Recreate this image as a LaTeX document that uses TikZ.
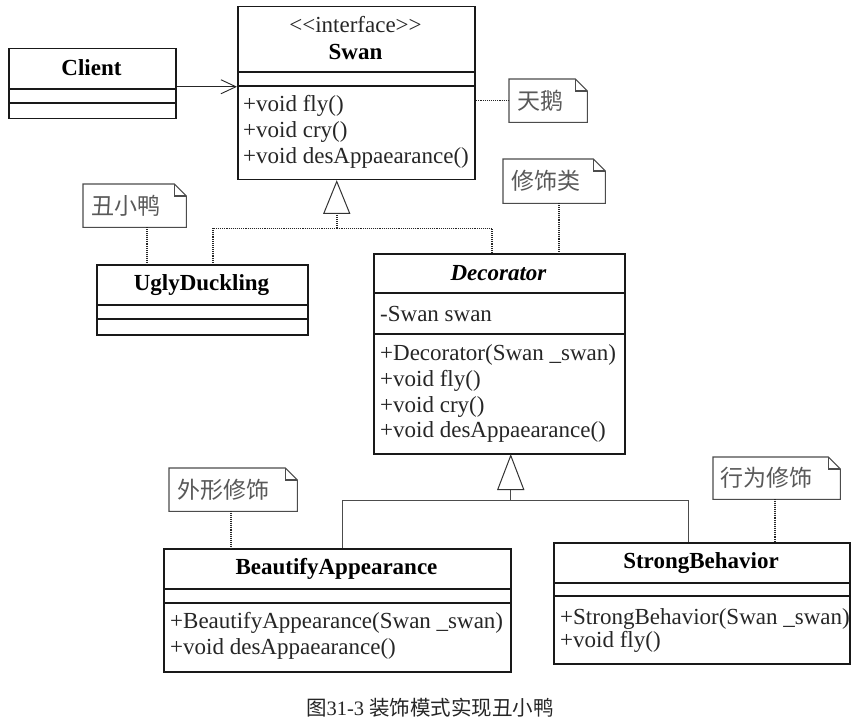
\documentclass[tikz,border=0pt]{standalone}
\usepackage{fontspec}
\setmainfont{Liberation Serif}
\newfontfamily\cjk{Noto Sans CJK SC}
\usetikzlibrary{arrows.meta}
\begin{document}
\begin{tikzpicture}[x=1pt,y=-1pt,
  classbox/.style={draw=black!90, line width=1.5pt, inner sep=0pt, anchor=north west},
  sepline/.style={draw=black!90, line width=1.5pt},
  title/.style={inner sep=0pt, font=\fontsize{23}{25}\selectfont\bfseries, text=black},
  member/.style={inner sep=0pt, anchor=west, font=\fontsize{23}{25}\selectfont, text=black!85},
  notebox/.style={inner sep=0pt, anchor=north west},
  noteborder/.style={draw=black!70, line width=1.1pt, line join=miter},
  notetext/.style={inner sep=0pt, anchor=west, font=\fontsize{23}{25}\selectfont\cjk, text=black!65},
  dotline/.style={draw=black!85, line width=1.6pt, dash pattern=on 1pt off 0.9pt},
  genline/.style={draw=black!70, line width=0.9pt},
  assoc/.style={draw=black!85, line width=0.9pt, -{Straight Barb[length=15pt,width=14pt,line width=0.9pt]}},
  tri/.style={draw=black!80, line width=1pt, fill=white, line join=miter},
  captext/.style={inner sep=0pt, font=\fontsize{20.5}{22}\selectfont, text=black!85}
]
\fill[white] (0,0) rectangle (862,722);
\useasboundingbox (0,0) rectangle (862,722);

% ---------- Client ----------
\node[classbox, minimum width=167pt, minimum height=70pt] (client) at (8,48) {};
\node[title] (clientT) at (91.5,68) {Client};
\draw[sepline] (8,89) -- (175,89);
\draw[sepline] (8,103) -- (175,103);

% ---------- Swan ----------
\node[classbox, minimum width=237pt, minimum height=173pt] (swan) at (237,6) {};
\node[inner sep=0pt, font=\fontsize{23}{25}\selectfont, text=black!85] (swanS) at (355.5,25) {<\kern0pt<interface>\kern0pt>};
\node[title] (swanT) at (355.5,52) {Swan};
\draw[sepline] (237,72) -- (474,72);
\draw[sepline] (237,86) -- (474,86);
\node[member] (swanM1) at (243,106) {+void fly()};
\node[member] (swanM2) at (243,132) {+void cry()};
\node[member] (swanM3) at (243,158) {+void desAppaearance()};

% ---------- UglyDuckling ----------
\node[classbox, minimum width=211pt, minimum height=70pt] (ugly) at (96,264) {};
\node[title] (uglyT) at (201.5,285) {UglyDuckling};
\draw[sepline] (96,305) -- (307,305);
\draw[sepline] (96,319) -- (307,319);

% ---------- Decorator ----------
\node[classbox, minimum width=251pt, minimum height=200pt] (deco) at (373,253) {};
\node[title, font=\fontsize{23}{25}\selectfont\bfseries\itshape] (decoT) at (498.5,273) {Decorator};
\draw[sepline] (373,293) -- (624,293);
\draw[sepline] (373,334) -- (624,334);
\node[member] (decoA) at (380,314) {-Swan swan};
\node[member] (decoM1) at (380,355) {+Decorator(Swan \_swan)};
\node[member] (decoM2) at (380,381) {+void fly()};
\node[member] (decoM3) at (380,407) {+void cry()};
\node[member] (decoM4) at (380,432) {+void desAppaearance()};

% ---------- BeautifyAppearance ----------
\node[classbox, minimum width=347pt, minimum height=123pt] (beau) at (163,548) {};
\node[title] (beauT) at (336.5,569) {BeautifyAppearance};
\draw[sepline] (163,589) -- (510,589);
\draw[sepline] (163,603) -- (510,603);
\node[member] (beauM1) at (170,623) {+BeautifyAppearance(Swan \_swan)};
\node[member] (beauM2) at (170,649) {+void desAppaearance()};

% ---------- StrongBehavior ----------
\node[classbox, minimum width=296pt, minimum height=121pt] (strong) at (553,542) {};
\node[title] (strongT) at (701,563) {StrongBehavior};
\draw[sepline] (553,583) -- (849,583);
\draw[sepline] (553,596) -- (849,596);
\node[member] (strongM1) at (560,619) {+StrongBehavior(Swan \_swan)};
\node[member] (strongM2) at (560,642) {+void fly()};

% ---------- Notes ----------
\newcommand\drawnote[1]{%
  \draw[noteborder] (#1.north west) -- ([xshift=-12pt]#1.north east) -- ([yshift=-12pt]#1.north east) -- (#1.south east) -- (#1.south west) -- cycle;
  \draw[noteborder] ([xshift=-12pt]#1.north east) -- ([xshift=-12pt,yshift=-12pt]#1.north east) -- ([yshift=-12pt]#1.north east);}

\node[notebox, minimum width=78pt, minimum height=43pt] (nSwan) at (509,79) {};
\drawnote{nSwan}
\node[notetext] (nSwanT) at ([xshift=8.5pt]nSwan.west) {天鹅};

\node[notebox, minimum width=102pt, minimum height=44pt] (nDeco) at (503,159) {};
\drawnote{nDeco}
\node[notetext] (nDecoT) at ([xshift=8.5pt]nDeco.west) {修饰类};

\node[notebox, minimum width=103pt, minimum height=43pt] (nUgly) at (83,184) {};
\drawnote{nUgly}
\node[notetext] (nUglyT) at ([xshift=8.5pt]nUgly.west) {丑小鸭};

\node[notebox, minimum width=128pt, minimum height=43pt] (nBeau) at (169,468) {};
\drawnote{nBeau}
\node[notetext] (nBeauT) at ([xshift=8.5pt]nBeau.west) {外形修饰};

\node[notebox, minimum width=127pt, minimum height=42pt] (nStrong) at (713,457) {};
\drawnote{nStrong}
\node[notetext] (nStrongT) at ([xshift=7.5pt]nStrong.west) {行为修饰};

% ---------- Note links ----------
\draw[dotline] (nSwan.west) -- (nSwan.west -| swan.east);
\draw[dotline] ([xshift=5pt]nDeco.south) -- ([xshift=5pt]nDeco.south |- deco.north);
\draw[dotline] ([xshift=12.5pt]nUgly.south) -- ([xshift=12.5pt]nUgly.south |- ugly.north);
\draw[dotline] ([xshift=-2pt]nBeau.south) -- ([xshift=-2pt]nBeau.south |- beau.north);
\draw[dotline] ([xshift=-1.5pt]nStrong.south) -- ([xshift=-1.5pt]nStrong.south |- strong.north);

% ---------- Association Client -> Swan ----------
\coordinate (ca) at ([yshift=-3pt]client.east);
\draw[assoc] (ca) -- (ca -| swan.west);

% ---------- Realization to Swan ----------
\coordinate (r1) at ([xshift=-19.5pt,yshift=-1pt]swan.south);
\coordinate (r1b) at ([xshift=-19.5pt,yshift=-33pt]swan.south);
\coordinate (rj) at ([yshift=-15pt]r1b);
\draw[dotline] (r1b) -- (rj);
\draw[dotline] (rj) -| ([xshift=10.5pt]ugly.north);
\draw[dotline] (rj) -| ([xshift=-7.5pt]deco.north);
\draw[tri] (r1) -- ([xshift=13pt]r1b) -- ([xshift=-13pt]r1b) -- cycle;

% ---------- Generalization to Decorator ----------
\coordinate (g1) at ([xshift=11.5pt,yshift=-1pt]deco.south);
\coordinate (g1b) at ([xshift=11.5pt,yshift=-35pt]deco.south);
\coordinate (gj) at ([yshift=-11pt]g1b);
\draw[genline] (g1b) -- (gj);
\draw[genline] (gj) -| ([xshift=5.5pt]beau.north);
\draw[genline] (gj) -| ([xshift=-13pt]strong.north);
\draw[tri] (g1) -- ([xshift=13pt]g1b) -- ([xshift=-13pt]g1b) -- cycle;

% ---------- Caption ----------
\node[captext] (cap) at (430,708) {{\cjk 图}31-3 {\cjk 装饰模式实现丑小鸭}};
\end{tikzpicture}
\end{document}
